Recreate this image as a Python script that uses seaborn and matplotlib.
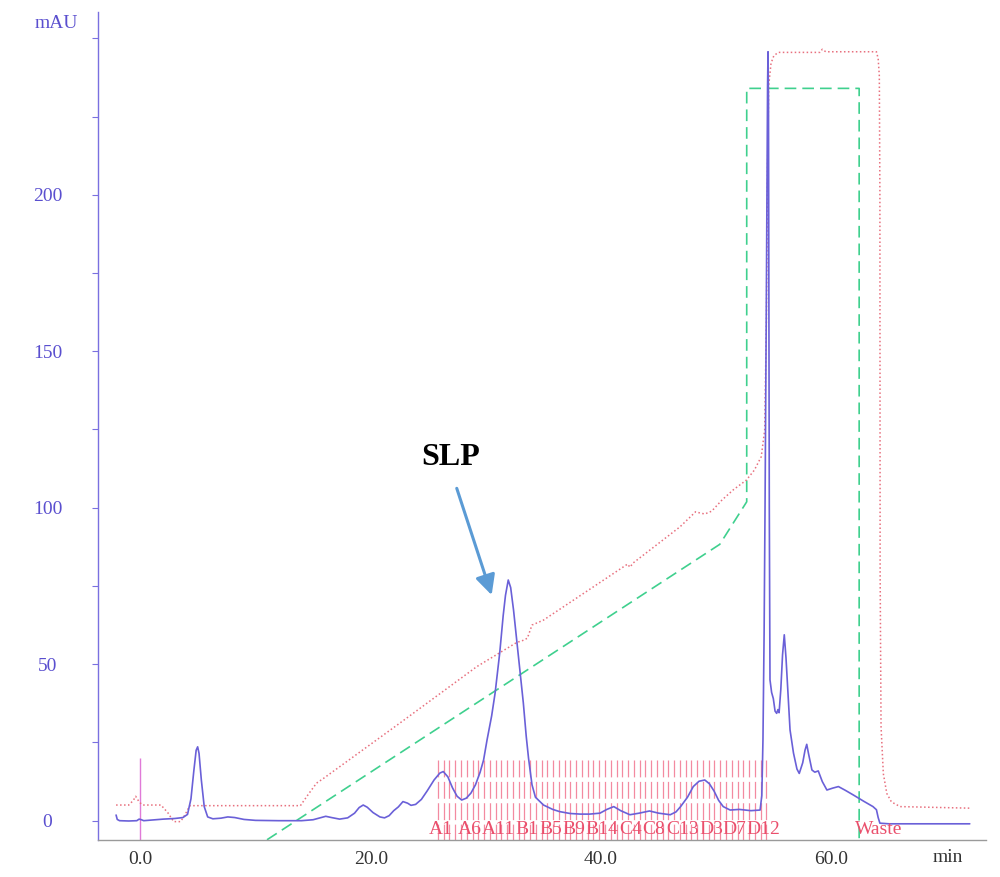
import matplotlib
matplotlib.use("Agg")
import matplotlib.pyplot as plt
import seaborn as sns
import pandas as pd
from matplotlib.ticker import MultipleLocator, FixedLocator

# ---------------- data ----------------
# UV absorbance trace (mAU) versus elution time (min)
uv_time = [-2.10, -2.00, -1.80, -1.00, -0.30, -0.10, 0.10, 0.30, 1.00, 2.00, 3.00, 3.70,
           4.10, 4.40, 4.65, 4.85, 4.98, 5.10, 5.30, 5.55, 5.85, 6.30, 7.00, 7.60, 8.20,
           9.00, 10.0, 12.0, 14.0, 15.0, 15.6, 16.1, 16.6, 17.3, 18.0, 18.6, 19.0, 19.35,
           19.7, 20.2, 20.8, 21.2, 21.6, 22.0, 22.4, 22.8, 23.2, 23.5, 23.9, 24.4, 24.9,
           25.5, 26.0, 26.3, 26.7, 27.1, 27.5, 27.9, 28.3, 28.7, 29.1, 29.5, 29.8, 30.1,
           30.5, 30.8, 31.2, 31.5, 31.7, 31.94, 32.15, 32.4, 32.7, 33.0, 33.25, 33.5, 33.7,
           34.0, 34.3, 35.0, 35.8, 36.4, 37.3, 38.2, 39.0, 39.9, 40.5, 41.1, 41.7, 42.5,
           43.3, 44.2, 45.0, 46.0, 46.5, 46.9, 47.5, 48.0, 48.5, 49.0, 49.4, 49.8, 50.2,
           50.6, 51.2, 52.0, 53.0, 53.8, 53.95, 54.05, 54.15, 54.23, 54.35, 54.45, 54.49,
           54.53, 54.57, 54.60, 54.63, 54.66, 54.80, 54.95, 55.10, 55.24, 55.35, 55.45,
           55.60, 55.75, 55.90, 56.05, 56.20, 56.40, 56.70, 57.00, 57.20, 57.50, 57.70,
           57.85, 58.00, 58.30, 58.55, 58.85, 59.20, 59.60, 60.10, 60.60, 61.20, 61.90,
           62.80, 63.60, 63.90, 64.05, 64.20, 65.00, 72.00]
uv_mau = [1.8, 0.4, 0.0, -0.1, 0.0, 0.5, 0.3, 0.0, 0.2, 0.5, 0.7, 1.0,
          2.0, 7.0, 16.0, 22.5, 23.6, 21.5, 13.0, 4.5, 1.2, 0.6, 0.8, 1.2, 1.0,
          0.4, 0.1, 0.0, 0.0, 0.3, 0.9, 1.4, 1.0, 0.5, 0.9, 2.4, 4.2, 5.0,
          4.3, 2.6, 1.2, 0.9, 1.6, 3.2, 4.4, 6.1, 5.6, 4.9, 5.2, 6.8, 9.5,
          13.0, 15.2, 15.7, 14.0, 10.5, 7.8, 6.6, 7.2, 8.8, 11.5, 15.5, 19.4, 25.8,
          33.5, 40.8, 53.6, 65.5, 72.0, 76.9, 74.5, 67.3, 56.8, 46.5, 37.6, 27.0, 20.0,
          11.5, 7.5, 5.0, 3.6, 2.9, 2.3, 2.1, 2.1, 2.4, 3.6, 4.5, 3.2, 1.9,
          2.4, 3.1, 2.4, 1.9, 2.8, 4.5, 7.5, 10.9, 12.6, 13.0, 11.8, 9.5, 6.5,
          4.5, 3.4, 3.6, 3.2, 3.4, 8.0, 25.8, 60.0, 100.0, 170.0, 235.0, 245.7,
          230.0, 150.0, 100.0, 70.0, 45.0, 41.0, 39.0, 35.0, 34.3, 35.5, 34.5,
          42.0, 53.0, 59.4, 52.0, 42.0, 29.0, 21.6, 16.5, 15.1, 18.5, 22.5,
          24.4, 21.5, 16.2, 15.5, 15.9, 12.5, 9.8, 10.4, 10.9, 9.7, 8.2,
          6.2, 4.5, 3.5, 1.0, -0.8, -1.0, -1.0]

# conductivity trace (dotted)
cond_time = [-2.10, -1.00, -0.60, -0.40, -0.10, 0.20, 1.80, 2.40, 2.90, 3.50, 3.90, 4.30,
             13.9, 14.6, 15.3, 15.9, 22.5, 29.2, 32.7, 33.1, 33.6, 34.0, 35.0, 42.3,
             42.5, 42.8, 46.85, 48.2, 48.6, 49.0, 49.6, 50.5, 51.5, 52.6, 53.3, 53.9,
             54.2, 54.35, 54.45, 54.55, 54.75, 55.0, 55.4, 59.0, 59.2, 59.5, 63.9,
             64.05, 64.15, 64.2, 64.22, 64.3, 64.5, 64.8, 65.2, 65.95, 72.0]
cond_val = [5.0, 5.0, 6.5, 7.8, 6.0, 5.0, 5.0, 2.5, -0.3, -0.3, 2.0, 4.8,
            4.8, 8.5, 12.0, 13.5, 31.1, 49.2, 57.0, 57.4, 58.3, 62.5, 64.1, 82.0,
            81.0, 82.4, 93.9, 98.7, 98.3, 98.0, 98.9, 102.5, 105.8, 108.8, 112.0, 116.3,
            124.8, 160.0, 210.0, 235.0, 242.0, 244.5, 245.5, 245.5, 246.5, 245.7, 245.7,
            243.5, 238.0, 200.0, 80.0, 30.0, 15.0, 8.7, 6.0, 4.5, 4.0]

# gradient (% buffer B, dashed)
grad_time = [11.0, 50.3, 52.64, 52.64, 62.4, 62.4]
grad_val = [-6.1, 88.3, 101.9, 234.0, 234.0, -6.1]

# fraction collection
frac_start = 25.84
frac_width = 0.5
frac_count = 57
frac_labels = ["A1", "A6", "A11", "B1", "B5", "B9", "B14", "C4", "C8", "C13", "D3", "D7", "D12"]
frac_label_index = [0, 5, 10, 15, 19, 23, 28, 33, 37, 42, 47, 51, 56]
waste_time = 64.06
inject_time = 0.0

x_ticks = [0, 20, 40, 60]
x_tick_labels = ["0.0", "20.0", "40.0", "60.0"]
y_ticks = [0, 50, 100, 150, 200]

# ---------------- style ----------------
sns.set_style("white")
plt.rcParams["font.family"] = ["Liberation Serif", "DejaVu Serif"]

UV = "#6a60d8"
AXIS_BLUE = "#5a4fcf"
COND = "#e8707e"
GRAD = "#3fd08e"
FRAC_LINE = "#f38aa0"
FRAC_TEXT = "#ea4f6c"
INJECT = "#e07ad8"
ARROW = "#5b9bd5"

fig = plt.figure(figsize=(10, 8.77), dpi=100)
ax = fig.add_axes([0.098, 0.0422, 0.888, 0.9441])
ax.set_xlim(-3.67, 73.41)
ax.set_ylim(-6.17, 258.4)

uv_df = pd.DataFrame({"time": uv_time, "mAU": uv_mau})
cond_df = pd.DataFrame({"time": cond_time, "val": cond_val})
grad_df = pd.DataFrame({"time": grad_time, "val": grad_val})

# fraction boundary marks
frac_edges = [frac_start + i * frac_width for i in range(frac_count + 1)]
ax.vlines(frac_edges, 19.4, -6.2, colors=FRAC_LINE, linewidth=0.9,
          linestyles=[(0, (13.5, 3.6))], zorder=1)

# injection marker
ax.vlines([inject_time], -6.2, 20.0, colors=INJECT, linewidth=1.0, zorder=1)

sns.lineplot(data=grad_df, x="time", y="val", ax=ax, estimator=None, sort=False,
             color=GRAD, linewidth=1.2, linestyle=(0, (7.0, 3.6)), zorder=2)
sns.lineplot(data=cond_df, x="time", y="val", ax=ax, estimator=None, sort=False,
             color=COND, linewidth=1.1, linestyle=(0, (1.0, 1.6)), zorder=2)
sns.lineplot(data=uv_df, x="time", y="mAU", ax=ax, estimator=None, sort=False,
             color=UV, linewidth=1.2, zorder=3)

# fraction labels
for lab, idx in zip(frac_labels, frac_label_index):
    ax.text(frac_start + (idx + 0.5) * frac_width, -2.8, lab, color=FRAC_TEXT,
            fontsize=14, ha="center", va="center", zorder=4)
ax.text(waste_time, -2.8, "Waste", color=FRAC_TEXT, fontsize=14,
        ha="center", va="center", zorder=4)

# peak annotation
ax.text(26.97, 116.2, "SLP", fontsize=23, fontweight="bold", color="black",
        ha="center", va="center")
ax.annotate("", xy=(30.5, 72.1), xytext=(27.47, 106.2),
            arrowprops=dict(arrowstyle="-|>,head_length=0.6,head_width=0.3",
                            color=ARROW, lw=2.2, mutation_scale=20,
                            shrinkA=0, shrinkB=0))

# axes styling
ax.set_xlabel("")
ax.set_ylabel("")
for side in ("top", "right"):
    ax.spines[side].set_visible(False)
ax.spines["left"].set_color("#7a70e0")
ax.spines["left"].set_linewidth(1.0)
ax.spines["bottom"].set_color("#9a9a9a")
ax.spines["bottom"].set_linewidth(1.0)

ax.xaxis.set_major_locator(FixedLocator(x_ticks))
ax.set_xticklabels(x_tick_labels)
ax.tick_params(axis="x", length=0, pad=8, labelsize=14, labelcolor="#333333")

ax.yaxis.set_major_locator(FixedLocator(y_ticks))
ax.yaxis.set_minor_locator(MultipleLocator(25))
ax.tick_params(axis="y", which="both", direction="out", length=4.3, width=0.8,
               color="#7a70e0", left=True)
ax.tick_params(axis="y", which="major", pad=32, labelsize=14, labelcolor=AXIS_BLUE)
for lbl in ax.get_yticklabels():
    lbl.set_horizontalalignment("center")

fig.text(0.056, 1 - 23.3 / 877, "mAU", color=AXIS_BLUE, fontsize=14,
         ha="center", va="center")
fig.text(0.9475, 1 - 857 / 877, "min", color="#333333", fontsize=14,
         ha="center", va="center")

fig.savefig("out.png", dpi=100)
